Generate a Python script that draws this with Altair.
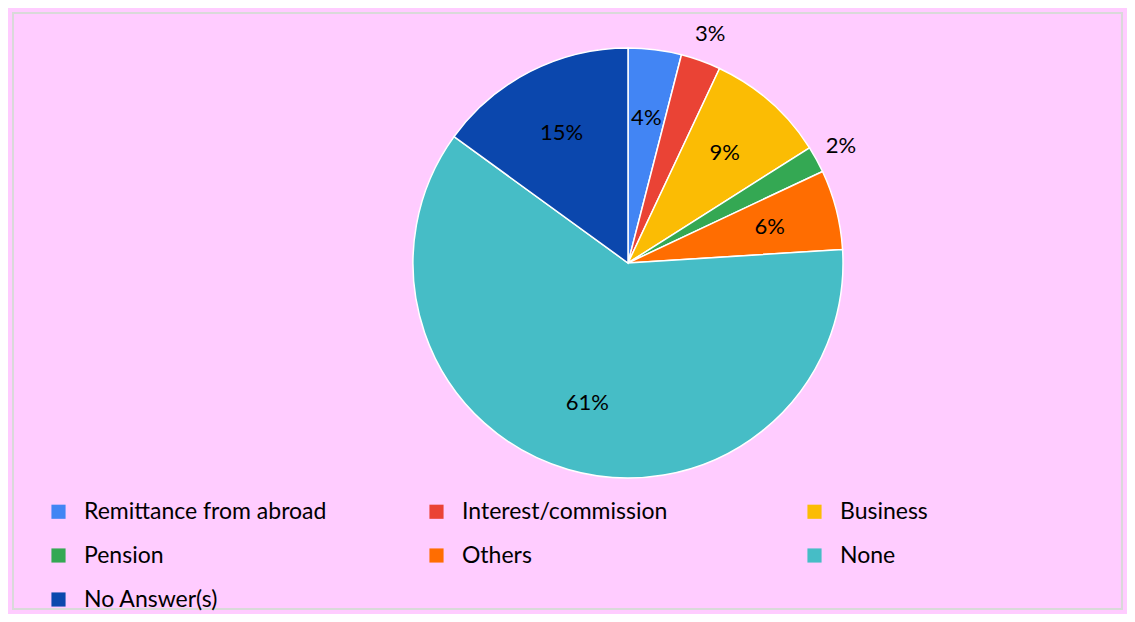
import altair as alt
import pandas as pd

categories = ["Remittance from abroad", "Interest/commission", "Business", "Pension",
              "Others", "None", "No Answer(s)"]
values = [4, 3, 9, 2, 6, 61, 15]
labels = ["4%", "3%", "9%", "2%", "6%", "61%", "15%"]
colors = ["#4285F4", "#EA4335", "#FBBC04", "#34A853", "#FF6D01", "#46BDC6", "#0B47AD"]
outside = ["3%", "2%"]

df = pd.DataFrame({"cat": categories, "val": values, "label": labels,
                   "order": list(range(len(categories)))})

cx, cy, R = 615, 250, 215
total = sum(values)

pie = alt.Chart(df).mark_arc(outerRadius=R, stroke="white", strokeWidth=1.5).encode(
    theta=alt.Theta("val:Q", stack=True, scale=alt.Scale(domain=[0, total])),
    order=alt.Order("order:Q"),
    x=alt.value(cx), y=alt.value(cy),
    color=alt.Color("cat:N", sort=categories,
                    scale=alt.Scale(domain=categories, range=colors),
                    legend=alt.Legend(title=None, orient="none", legendX=34, legendY=487,
                                      columns=3, direction="horizontal", gridAlign="all",
                                      columnPadding=98,
                                      rowPadding=20, symbolType="square", symbolSize=200,
                                      labelFont="Lato", labelFontSize=23,
                                      labelColor="#000000", labelLimit=400,
                                      symbolStrokeWidth=0, labelOffset=14)),
)

outside_expr = "indexof(" + str(outside).replace("'", '"') + ", datum.label) >= 0"

text = alt.Chart(df).transform_window(
    cum="sum(val)", sort=[alt.SortField("order", order="ascending")],
    frame=[None, 0],
).transform_calculate(
    mid="datum.cum - datum.val / 2",
    lr=f"{outside_expr} ? {R + 28} : {R * 0.68}",
).mark_text(font="Lato", fontSize=22, color="#000000").encode(
    theta=alt.Theta("mid:Q", stack=None, scale=alt.Scale(domain=[0, total])),
    x=alt.value(cx), y=alt.value(cy), text="label:N",
    radius=alt.Radius("lr:Q", scale=None),
)

chart = (pie + text).properties(
    width=1119, height=606,
    autosize=alt.AutoSizeParams(type="fit", contains="padding"),
    background="#FFCCFF",
).configure_view(stroke="#D9D9D9", strokeWidth=2)

chart.save("out.html", embed_options={"renderer": "svg", "actions": False})
